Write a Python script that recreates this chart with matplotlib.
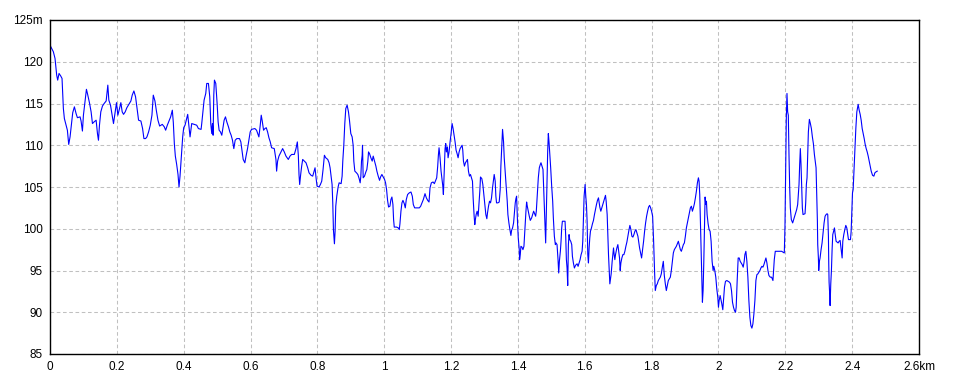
import matplotlib
matplotlib.use("Agg")
import matplotlib.pyplot as plt

# elevation profile (distance in km, elevation in m)
dist_km = [
    0.001, 0.010, 0.015, 0.020, 0.023, 0.027, 0.032, 0.036, 0.040, 0.043,
    0.048, 0.052, 0.056, 0.060, 0.064, 0.068, 0.073, 0.078, 0.082, 0.090,
    0.093, 0.097, 0.100, 0.104, 0.109, 0.112, 0.118, 0.123, 0.127, 0.132,
    0.138, 0.142, 0.145, 0.148, 0.152, 0.157, 0.162, 0.168, 0.173, 0.176,
    0.181, 0.186, 0.190, 0.195, 0.199, 0.203, 0.208, 0.212, 0.216, 0.220,
    0.225, 0.230, 0.236, 0.242, 0.246, 0.251, 0.256, 0.260, 0.265, 0.272,
    0.277, 0.281, 0.286, 0.290, 0.295, 0.300, 0.305, 0.309, 0.314, 0.318,
    0.323, 0.328, 0.336, 0.342, 0.346, 0.351, 0.355, 0.361, 0.366, 0.369,
    0.372, 0.375, 0.379, 0.383, 0.386, 0.389, 0.393, 0.397, 0.400,
    0.404, 0.412, 0.419, 0.424, 0.439, 0.444, 0.452, 0.454, 0.458, 0.461,
    0.466, 0.469, 0.474, 0.478, 0.481, 0.484, 0.486, 0.488, 0.490, 0.492,
    0.496, 0.500, 0.503, 0.506, 0.510, 0.514, 0.517, 0.521, 0.525, 0.529,
    0.534, 0.538, 0.542, 0.546, 0.550, 0.554, 0.559, 0.567, 0.571, 0.575,
    0.578, 0.583, 0.587, 0.591, 0.595, 0.599, 0.603, 0.613, 0.618, 0.625,
    0.629, 0.632, 0.635, 0.639, 0.643, 0.647, 0.651, 0.655, 0.659, 0.663,
    0.671, 0.676, 0.678, 0.681, 0.685, 0.691, 0.696, 0.701, 0.706, 0.713,
    0.718, 0.723, 0.731, 0.736, 0.740, 0.743, 0.745, 0.747, 0.750, 0.753,
    0.756, 0.761, 0.766, 0.771, 0.775, 0.781, 0.786, 0.790, 0.793, 0.796,
    0.799, 0.805, 0.809, 0.813, 0.817, 0.821, 0.825, 0.831, 0.835,
    0.838, 0.841, 0.844, 0.846, 0.848, 0.851, 0.853, 0.855, 0.858, 0.862,
    0.865, 0.871, 0.874, 0.876, 0.879, 0.882, 0.885, 0.889, 0.893, 0.896,
    0.900, 0.904, 0.907, 0.909, 0.912, 0.917, 0.921, 0.925, 0.928, 0.930,
    0.932, 0.934, 0.935, 0.937, 0.941, 0.945, 0.948, 0.951, 0.953, 0.956,
    0.960, 0.964, 0.967, 0.971, 0.975, 0.978, 0.982, 0.986, 0.989, 0.993,
    0.997, 1.001, 1.004, 1.007, 1.010, 1.013, 1.017, 1.020, 1.023, 1.026,
    1.028, 1.030, 1.037, 1.042, 1.045, 1.047, 1.050, 1.053, 1.056, 1.060,
    1.063, 1.066, 1.070, 1.075, 1.080, 1.084, 1.087, 1.091, 1.105, 1.109,
    1.113, 1.117, 1.122, 1.126, 1.130, 1.134, 1.137, 1.141, 1.146, 1.150,
    1.154, 1.157, 1.160, 1.162, 1.164, 1.167, 1.170, 1.173, 1.175, 1.177,
    1.180, 1.182, 1.184, 1.186, 1.189, 1.191, 1.194, 1.197, 1.200, 1.203,
    1.206, 1.209, 1.212, 1.215, 1.218, 1.221, 1.224, 1.227, 1.230, 1.233,
    1.235, 1.237, 1.240, 1.243, 1.246, 1.249, 1.252, 1.255, 1.258, 1.261,
    1.264, 1.266, 1.269, 1.271,
    1.272, 1.275, 1.278, 1.281, 1.283, 1.286, 1.288, 1.292, 1.295, 1.298,
    1.301, 1.304, 1.307, 1.309, 1.312, 1.315, 1.318, 1.321, 1.324, 1.327,
    1.329, 1.332, 1.334, 1.336, 1.340, 1.344, 1.347, 1.349, 1.352, 1.354,
    1.357, 1.359, 1.362, 1.365, 1.368, 1.370, 1.373, 1.376, 1.379, 1.381,
    1.384, 1.387, 1.389, 1.392, 1.394, 1.396, 1.398, 1.399, 1.401, 1.404,
    1.405, 1.407, 1.409, 1.412, 1.415, 1.418, 1.420, 1.422, 1.424, 1.426,
    1.428, 1.431, 1.434, 1.437, 1.441, 1.444, 1.447, 1.450, 1.453, 1.455,
    1.458, 1.461, 1.464, 1.467, 1.469, 1.472, 1.475, 1.477, 1.479, 1.481,
    1.483, 1.485, 1.487, 1.489, 1.491, 1.493, 1.495, 1.498, 1.501, 1.504,
    1.506, 1.509, 1.512, 1.514, 1.517, 1.520, 1.522, 1.524, 1.527, 1.529,
    1.531, 1.533, 1.541, 1.543, 1.545, 1.547, 1.549, 1.551, 1.553, 1.555,
    1.558, 1.561, 1.563, 1.566, 1.569, 1.571, 1.574, 1.577, 1.580, 1.583,
    1.586, 1.589, 1.592, 1.594, 1.596, 1.598, 1.601, 1.603, 1.605, 1.607,
    1.609, 1.611, 1.613, 1.615, 1.617, 1.620, 1.623, 1.626, 1.629, 1.632,
    1.635, 1.638, 1.641, 1.643, 1.645, 1.648, 1.651, 1.654, 1.657, 1.660,
    1.662, 1.664, 1.667, 1.669, 1.671, 1.673, 1.675, 1.677, 1.679, 1.682,
    1.684, 1.686, 1.688, 1.690, 1.692, 1.694, 1.696, 1.699, 1.701, 1.704,
    1.706, 1.708, 1.711, 1.714, 1.717, 1.720, 1.723, 1.726, 1.729, 1.732,
    1.735, 1.738, 1.741, 1.744, 1.747, 1.750, 1.753, 1.756, 1.759, 1.761,
    1.764, 1.767, 1.770, 1.773, 1.776, 1.779, 1.782, 1.785, 1.788, 1.791,
    1.794, 1.797, 1.800, 1.803, 1.806, 1.809, 1.811, 1.814, 1.817, 1.820,
    1.823, 1.826, 1.829, 1.832, 1.835, 1.838, 1.841, 1.844, 1.847, 1.850,
    1.853, 1.856, 1.859, 1.862, 1.865, 1.868, 1.871, 1.874, 1.877, 1.880,
    1.883, 1.886, 1.889, 1.892, 1.895, 1.898, 1.901, 1.904, 1.907, 1.910,
    1.913, 1.916, 1.919, 1.922, 1.925, 1.928, 1.931, 1.934, 1.937, 1.940,
    1.942, 1.944, 1.946, 1.948, 1.950, 1.952, 1.954, 1.956, 1.958, 1.960,
    1.962, 1.964, 1.966, 1.969, 1.972, 1.975, 1.978, 1.981, 1.984, 1.986,
    1.989, 1.992, 1.995, 1.998, 2.000, 2.002, 2.005, 2.007, 2.010, 2.013,
    2.015, 2.018, 2.021, 2.025, 2.029, 2.033, 2.036, 2.039, 2.042, 2.045,
    2.048, 2.051, 2.053, 2.056, 2.059, 2.062, 2.065, 2.068, 2.071, 2.074,
    2.077, 2.079, 2.082, 2.085, 2.088, 2.091, 2.094, 2.097, 2.100, 2.103,
    2.106, 2.109, 2.112, 2.115, 2.118, 2.121, 2.124, 2.127, 2.130, 2.133,
    2.136, 2.139,
    2.142, 2.145, 2.148, 2.151, 2.155, 2.159, 2.163, 2.165, 2.167, 2.170,
    2.183, 2.189, 2.197, 2.199, 2.201, 2.203, 2.205, 2.207, 2.209, 2.211,
    2.213, 2.215, 2.218, 2.222, 2.225, 2.228, 2.231, 2.234, 2.237, 2.239,
    2.241, 2.243, 2.245, 2.247, 2.249, 2.251, 2.253, 2.259, 2.261, 2.263,
    2.265, 2.267, 2.269, 2.272, 2.275, 2.278, 2.281, 2.284, 2.287, 2.290,
    2.292, 2.294, 2.296, 2.297, 2.299, 2.300, 2.302, 2.304, 2.307, 2.310,
    2.313, 2.316, 2.319, 2.322, 2.325, 2.327, 2.329, 2.330, 2.331, 2.333,
    2.334, 2.336, 2.338, 2.340, 2.342, 2.345, 2.347, 2.349, 2.352, 2.355,
    2.358, 2.361, 2.364, 2.366, 2.368, 2.370, 2.372, 2.375, 2.378, 2.381,
    2.384, 2.387, 2.389, 2.395, 2.397, 2.399, 2.401, 2.403, 2.405, 2.407,
    2.409, 2.411, 2.414, 2.418, 2.421, 2.424, 2.427, 2.430, 2.433, 2.436,
    2.439, 2.442, 2.445, 2.448, 2.451, 2.454, 2.457, 2.461, 2.465, 2.468,
    2.471, 2.475,
]

elev_m = [
    121.9, 121.2, 120.4, 118.4, 117.8, 118.6, 118.3, 118.0, 114.4, 113.2,
    112.4, 111.8, 110.1, 111.0, 112.4, 113.9, 114.6, 113.8, 113.3, 113.4,
    112.9, 111.7, 113.6, 115.0, 116.7, 116.2, 115.1, 114.0, 112.6, 112.8,
    113.0, 111.4, 110.6, 112.4, 114.0, 114.7, 115.0, 115.3, 117.2, 115.4,
    114.8, 113.6, 112.6, 114.0, 115.1, 113.6, 114.4, 115.1, 114.0, 113.7,
    114.0, 114.5, 114.9, 115.3, 116.0, 116.5, 115.8, 114.6, 113.0, 112.9,
    112.0, 110.8, 110.8, 111.0, 111.6, 112.4, 113.6, 116.0, 115.3, 114.2,
    113.0, 112.3, 112.5, 112.2, 111.8, 112.4, 112.8, 113.4, 114.2, 112.7,
    110.2, 108.7, 107.7, 106.5, 105.0, 106.3, 108.7, 111.0, 112.1,
    112.4, 113.7, 111.0, 112.6, 112.4, 112.0, 111.9, 112.6, 114.2, 115.4,
    116.2, 117.4, 117.4, 115.8, 112.6, 111.4, 112.6, 111.2, 116.0, 117.8,
    117.4, 115.0, 112.8, 111.8, 111.6, 111.2, 112.0, 113.0, 113.4, 112.8,
    112.2, 111.6, 111.2, 110.6, 109.6, 110.6, 110.8, 110.8, 110.4, 109.2,
    108.3, 107.9, 108.8, 109.6, 110.6, 111.6, 111.9, 112.0, 111.8, 111.0,
    112.4, 113.6, 112.9, 111.8, 112.0, 112.1, 111.6, 110.9, 110.4, 109.7,
    109.6, 108.3, 106.9, 108.1, 108.7, 109.2, 109.6, 109.2, 108.7, 108.3,
    108.7, 108.9, 108.9, 109.6, 110.4, 108.8, 106.5, 105.3, 106.5, 107.5,
    108.3, 108.1, 107.9, 107.3, 106.7, 106.4, 106.3, 106.9, 107.3, 106.1,
    105.1, 105.0, 105.3, 105.7, 107.1, 108.8, 108.5, 108.3, 107.9,
    107.3, 106.3, 105.3, 103.1, 99.9, 98.2, 99.7, 102.7, 103.9, 105.0,
    105.5, 105.4, 106.3, 108.1, 110.0, 112.6, 114.4, 114.8, 114.0, 113.0,
    111.4, 111.0, 110.0, 108.1, 106.9, 106.7, 106.5, 106.0, 105.5, 106.3,
    108.1, 108.8, 110.0, 106.1, 106.3, 106.8, 107.1, 108.1, 109.2, 109.0,
    108.5, 108.1, 108.7, 108.1, 107.5, 106.9, 106.3, 105.8, 106.2, 106.5,
    106.2, 105.9, 105.5, 104.7, 103.4, 102.6, 102.7, 103.5, 103.8, 102.9,
    101.1, 100.2, 100.2, 100.1, 99.9, 100.6, 102.1, 103.1, 103.4, 103.0,
    102.5, 103.5, 104.1, 104.3, 104.4, 103.9, 102.9, 102.5, 102.5, 102.7,
    103.1, 103.5, 104.2, 103.7, 103.4, 103.2, 104.9, 105.5, 105.6, 105.4,
    105.8, 106.1, 107.5, 108.8, 109.7, 108.5, 106.9, 105.9, 105.2, 104.1,
    107.3, 109.6, 110.2, 109.2, 109.8, 108.5, 109.2, 110.4, 111.4, 112.6,
    112.0, 111.2, 110.4, 109.4, 109.0, 108.5, 109.2, 109.6, 109.8, 110.0,
    109.4, 108.1, 107.5, 107.9, 108.1, 108.3, 106.9, 106.3, 106.5, 106.1,
    105.7, 103.7, 101.5, 100.5,
    100.9, 101.7, 102.1, 101.5, 102.7, 104.5, 106.2, 106.0, 105.3, 104.1,
    102.9, 101.7, 101.2, 101.9, 102.7, 103.3, 103.1, 103.7, 104.9, 105.9,
    106.5, 105.7, 103.9, 103.1, 103.1, 103.2, 104.7, 107.5, 110.2, 111.9,
    110.4, 108.5, 106.7, 105.0, 103.3, 101.7, 100.7, 99.9, 99.2, 99.8,
    100.1, 100.7, 101.7, 103.1, 103.6, 103.9, 101.7, 100.6, 98.9, 97.5,
    96.3, 96.9, 97.9, 97.8, 97.5, 97.9, 99.3, 100.5, 102.1, 103.2,
    102.7, 102.1, 101.5, 101.0, 101.3, 101.7, 102.1, 101.8, 101.5, 102.1,
    104.1, 106.1, 107.3, 107.7, 107.9, 107.5, 107.1, 104.9, 102.9, 100.5,
    98.3, 102.1, 105.3, 109.2, 111.4, 110.4, 109.2, 107.3, 105.1, 103.3,
    101.3, 99.1, 98.1, 98.3, 98.1, 96.3, 94.7, 96.1, 97.3, 98.5,
    100.1, 100.9, 100.9, 99.1, 96.3, 95.3, 93.2, 98.1, 99.3, 98.7,
    98.5, 98.1, 96.7, 95.9, 95.3, 95.5, 95.7, 95.8, 95.5, 95.9,
    96.3, 96.9, 97.3, 98.5, 101.3, 103.9, 105.3, 103.9, 102.9, 100.9,
    96.9, 95.9, 97.7, 98.9, 99.7, 100.1, 100.6, 101.0, 101.7, 102.3,
    102.9, 103.4, 103.7, 103.1, 102.6, 102.1, 102.5, 102.9, 103.3, 103.7,
    104.0, 103.3, 101.7, 99.3, 96.9, 95.2, 93.4, 94.0, 94.6, 96.1,
    96.9, 97.7, 96.9, 96.3, 96.9, 97.3, 97.7, 98.1, 97.5, 96.5,
    95.0, 95.9, 96.5, 96.9, 96.9, 97.3, 97.9, 98.4, 99.1, 99.8,
    100.4, 99.9, 99.1, 99.0, 99.3, 99.7, 99.9, 99.5, 99.1, 98.5,
    97.7, 97.1, 96.5, 97.5, 98.5, 99.7, 100.7, 101.5, 102.1, 102.6,
    102.8, 102.5, 102.1, 101.5, 98.5, 94.7, 92.6, 93.2, 93.4, 93.8,
    94.0, 94.2, 94.6, 95.4, 96.1, 94.4, 93.4, 92.6, 93.2, 93.8,
    94.0, 94.2, 95.0, 96.1, 97.1, 97.5, 97.7, 97.9, 98.2, 98.5,
    98.0, 97.5, 97.3, 97.7, 98.1, 98.3, 99.1, 100.1, 100.7, 101.3,
    101.9, 102.5, 102.7, 102.1, 102.5, 103.0, 103.7, 104.5, 105.5, 106.1,
    105.7, 104.1, 100.8, 97.7, 94.6, 91.2, 92.6, 95.8, 99.7, 103.8,
    102.9, 103.3, 101.7, 100.6, 99.9, 99.7, 98.5, 96.1, 95.0, 95.5,
    95.0, 94.2, 92.8, 91.8, 90.6, 91.4, 92.0, 91.6, 91.0, 90.3,
    91.4, 93.0, 93.7, 93.8, 93.7, 93.6, 93.4, 92.6, 91.2, 90.6,
    90.2, 90.0, 90.6, 93.8, 96.5, 96.5, 96.1, 95.9, 95.7, 95.4,
    96.1, 96.9, 97.3, 96.1, 94.2, 91.4, 89.4, 88.4, 88.1, 88.6,
    89.8, 91.4, 93.8, 94.5, 94.6, 94.8, 95.0, 95.3, 95.5, 95.4,
    95.7, 96.1,
    96.5, 95.9, 95.0, 94.4, 94.2, 94.2, 93.8, 95.0, 96.3, 97.3,
    97.3, 97.3, 97.1, 100.3, 106.9, 113.2, 116.2, 114.0, 113.6, 108.9,
    105.1, 102.5, 101.1, 100.7, 101.1, 101.5, 101.9, 102.3, 102.9, 104.1,
    105.3, 107.7, 109.6, 107.7, 104.9, 102.5, 101.7, 101.8, 103.1, 105.3,
    106.1, 108.9, 111.6, 113.1, 112.6, 112.0, 111.0, 110.2, 108.9, 107.9,
    107.3, 103.9, 100.9, 98.1, 96.5, 95.0, 96.1, 96.5, 97.5, 98.3,
    99.5, 100.7, 101.5, 101.7, 101.8, 101.7, 99.1, 95.8, 93.6, 92.0,
    90.8, 93.4, 95.0, 97.5, 99.3, 99.8, 100.1, 99.4, 98.5, 98.4,
    98.3, 98.5, 98.6, 97.9, 97.1, 96.5, 98.5, 99.3, 99.9, 100.4,
    100.1, 99.3, 98.7, 98.7, 99.7, 102.1, 104.3, 104.7, 106.5, 108.5,
    110.2, 112.0, 114.0, 114.9, 114.2, 113.7, 113.0, 112.0, 111.4, 110.8,
    110.1, 109.6, 109.2, 108.7, 108.1, 107.5, 106.9, 106.4, 106.3, 106.7,
    106.8, 106.9,
]

x_ticks = [0, 0.2, 0.4, 0.6, 0.8, 1, 1.2, 1.4, 1.6, 1.8, 2, 2.2, 2.4, 2.6]
x_labels = ["0", "0.2", "0.4", "0.6", "0.8", "1", "1.2", "1.4", "1.6", "1.8",
            "2", "2.2", "2.4", "2.6km"]
y_ticks = [85, 90, 95, 100, 105, 110, 115, 120, 125]
y_labels = ["85", "90", "95", "100", "105", "110", "115", "120", "125m"]

plt.rcParams["font.family"] = ["Liberation Sans", "DejaVu Sans"]

fig = plt.figure(figsize=(9.6, 3.84), dpi=100)
ax = fig.add_axes([50 / 960, 30 / 384, 869 / 960, 334 / 384])

ax.plot(dist_km, elev_m, color="#0000ff", linewidth=0.8)

ax.set_xlim(0, 2.6)
ax.set_ylim(85, 125)
ax.set_xticks(x_ticks)
ax.set_xticklabels(x_labels)
ax.set_yticks(y_ticks)
ax.set_yticklabels(y_labels)
ax.tick_params(length=0, labelsize=8.5, pad=5, colors="black")
ax.grid(True, color="#c0c0c0", linestyle=(0, (3.5, 2.5)), linewidth=0.75)
ax.set_axisbelow(True)
for s in ax.spines.values():
    s.set_color("black")
    s.set_linewidth(1.0)

fig.savefig("out.png", dpi=100)
